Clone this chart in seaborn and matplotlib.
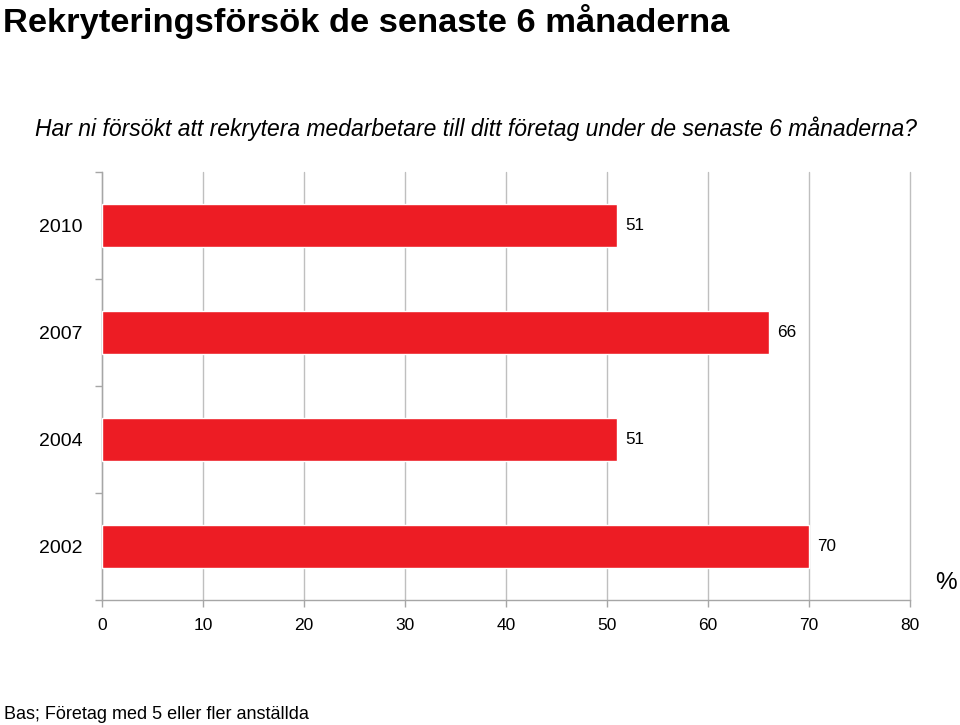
import matplotlib
matplotlib.use("Agg")
import matplotlib.pyplot as plt
import seaborn as sns
import pandas as pd
import numpy as np

years = ["2010", "2007", "2004", "2002"]
values = [51, 66, 51, 70]
xticks = [0, 10, 20, 30, 40, 50, 60, 70, 80]

sns.set_theme(style="white")
plt.rcParams['font.family'] = ['Liberation Sans', 'DejaVu Sans']
plt.rcParams['text.color'] = 'black'

df = pd.DataFrame({"year": years, "value": values})

fig = plt.figure(figsize=(9.6, 7.25), dpi=100)
ax = fig.add_axes([102/960, 1-600/725, (910-102)/960, (600-172)/725])

sns.barplot(data=df, x="value", y="year", order=years, orient="h",
            color="#ED1C24", saturation=1, width=0.4, ax=ax, zorder=3)

ax.set_xlim(0, 80)
ax.set_ylim(len(years)-0.5, -0.5)
ax.set_xticks(xticks)
ax.set_xticklabels([str(t) for t in xticks], fontsize=12.5)
ax.set_yticks(range(len(years)))
ax.set_yticklabels(years, fontsize=14)
ax.set_yticks(np.arange(-0.5, len(years), 1.0), minor=True)
ax.tick_params(axis="y", which="major", length=0, pad=14, labelcolor="black")
ax.tick_params(axis="y", which="minor", length=5, width=1, color="#A6A6A6", direction="out", left=True)
ax.tick_params(axis="x", which="major", length=5, width=1, color="#A6A6A6", direction="out",
               bottom=True, pad=8, labelcolor="black")
ax.set_xlabel("")
ax.set_ylabel("")

ax.grid(axis="x", color="#BFBFBF", linewidth=1, zorder=0)
ax.grid(axis="y", visible=False)
ax.set_axisbelow(True)
for line in ax.get_xgridlines():
    line.set_clip_on(False)
for s in ["top", "right"]:
    ax.spines[s].set_visible(False)
for s in ["left", "bottom"]:
    ax.spines[s].set_color("#A6A6A6")
    ax.spines[s].set_linewidth(1)

for i, v in enumerate(values):
    ax.text(v + 0.8, i, str(v), va="center", ha="left", fontsize=12.3, color="black")

fig.text(3/960, 1-32/725, "Rekryteringsförsök de senaste 6 månaderna", fontsize=24.8,
         fontweight="bold", ha="left", va="baseline")
fig.text(35/960, 1-136/725,
         "Har ni försökt att rekrytera medarbetare till ditt företag under de senaste 6 månaderna?",
         fontsize=16.5, style="italic", ha="left", va="baseline")
fig.text(946/960, 1-583/725, "%", fontsize=17.5, ha="center", va="center")
fig.text(4/960, 1-719/725, "Bas; Företag med 5 eller fler anställda", fontsize=13,
         ha="left", va="baseline")

fig.savefig("out.png", dpi=100)
